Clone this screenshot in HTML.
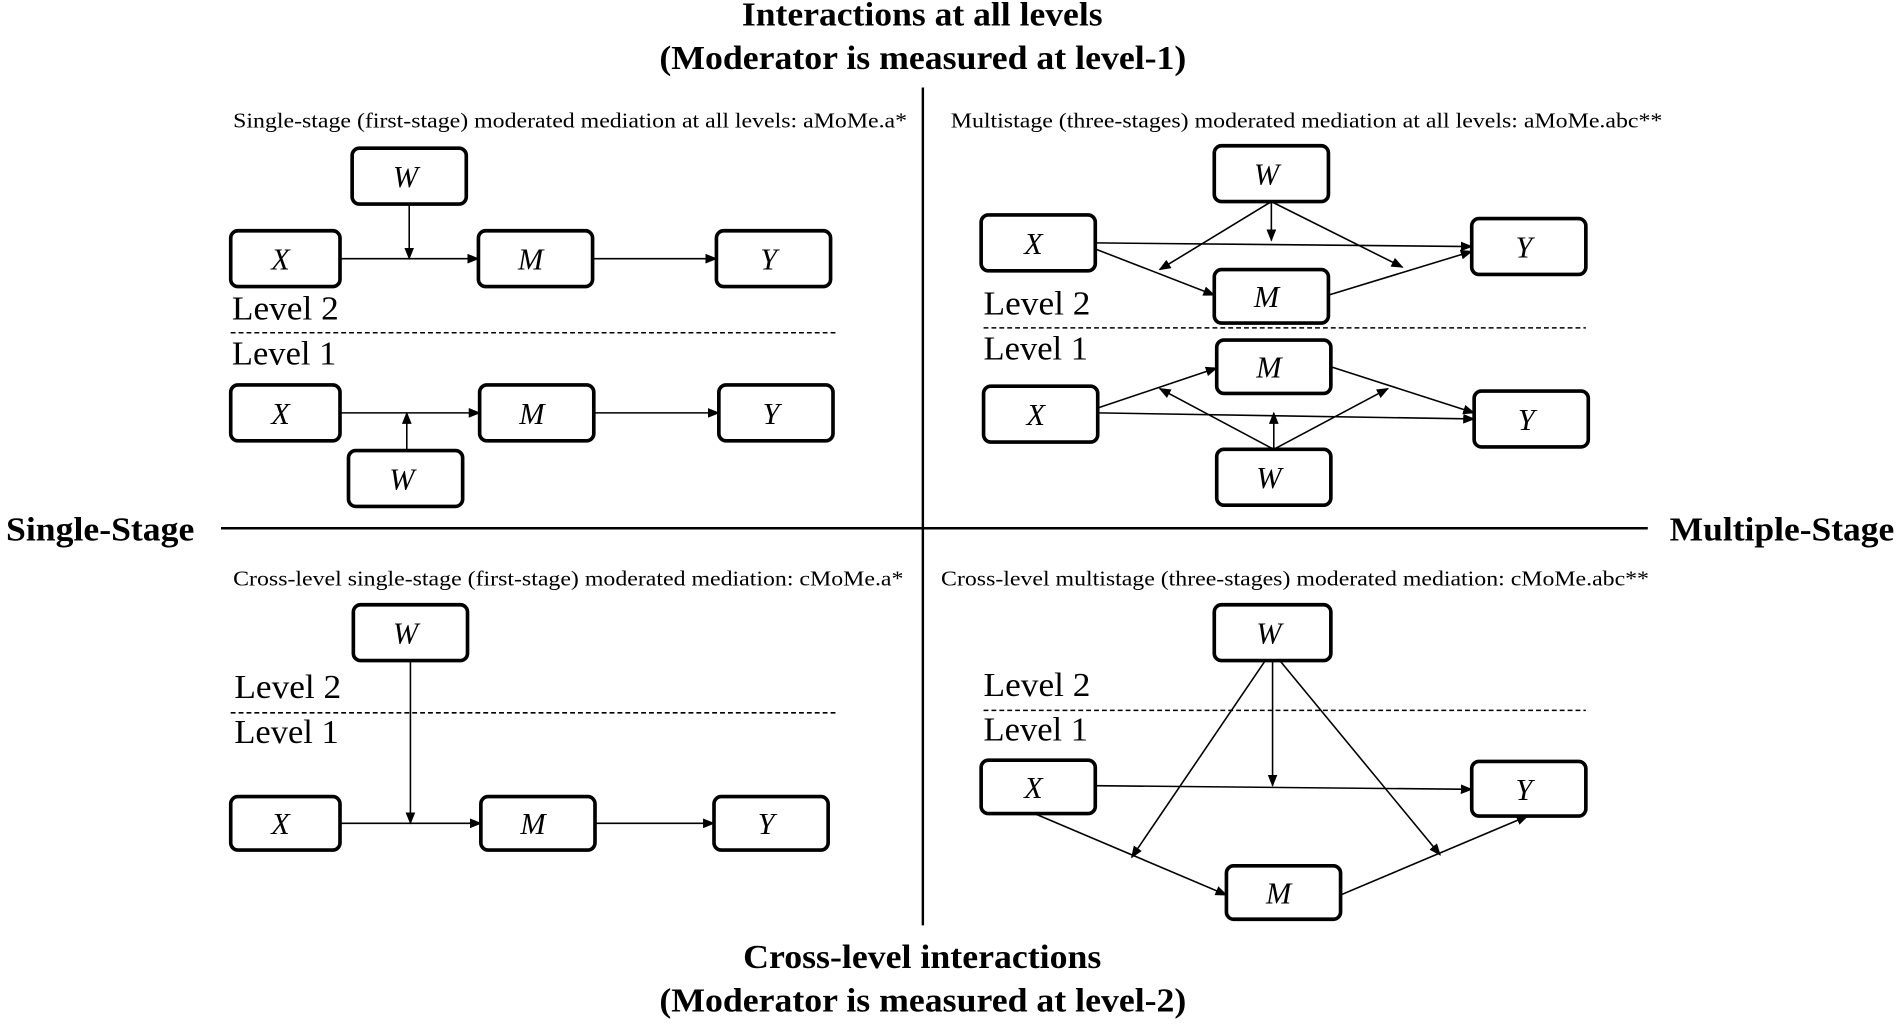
<!DOCTYPE html>
<html><head><meta charset="utf-8"><style>
html,body{margin:0;padding:0;background:#fff;}
svg{display:block;}
text{font-family:"Liberation Serif",serif;fill:#000;}
.b{font-weight:bold;font-size:28px;}
.c{font-size:17px;}
.l{font-size:28px;}
.v{font-size:25px;font-style:italic;}
rect{fill:#fff;stroke:#000;stroke-width:3;}
.ln{stroke:#000;stroke-width:1.3;fill:none;}
.ar{stroke:#000;stroke-width:1.3;fill:none;marker-end:url(#ah);}
.d{stroke:#000;stroke-width:1.3;stroke-dasharray:4 2.5;}
</style></head><body>
<svg width="1904" height="1031" viewBox="0 0 1568 849" xmlns="http://www.w3.org/2000/svg">
<defs><marker id="ah" markerWidth="10" markerHeight="8" refX="9" refY="4" orient="auto" markerUnits="userSpaceOnUse"><path d="M0,0 L10,4 L0,8 z" fill="#000"/></marker></defs>

<text class="b" x="611" y="21" textLength="297" lengthAdjust="spacingAndGlyphs">Interactions at all levels</text>
<text class="b" x="543" y="57" textLength="434" lengthAdjust="spacingAndGlyphs">(Moderator is measured at level-1)</text>
<text class="b" x="612" y="797" textLength="295" lengthAdjust="spacingAndGlyphs">Cross-level interactions</text>
<text class="b" x="543" y="833" textLength="434" lengthAdjust="spacingAndGlyphs">(Moderator is measured at level-2)</text>
<text class="b" x="5" y="445" textLength="155" lengthAdjust="spacingAndGlyphs">Single-Stage</text>
<text class="b" x="1375" y="445" textLength="185" lengthAdjust="spacingAndGlyphs">Multiple-Stage</text>
<line class="ln" x1="760" y1="72" x2="760" y2="762" style="stroke-width:2"/>
<line class="ln" x1="182" y1="435" x2="1357" y2="435" style="stroke-width:2"/>

<!-- Q1 -->
<text class="c" x="192" y="105" textLength="555" lengthAdjust="spacingAndGlyphs">Single-stage (first-stage) moderated mediation at all levels: aMoMe.a*</text>
<line class="ar" x1="280" y1="213" x2="394" y2="213"/>
<line class="ar" x1="488" y1="213" x2="590" y2="213"/>
<line class="ar" x1="337" y1="168" x2="337" y2="213"/>
<rect x="290" y="122" width="94" height="46" rx="6"/><text class="v" x="334" y="154" text-anchor="middle">W</text>
<rect x="190" y="190" width="90" height="46" rx="6"/><text class="v" x="231" y="222" text-anchor="middle">X</text>
<rect x="394" y="190" width="94" height="46" rx="6"/><text class="v" x="437" y="222" text-anchor="middle">M</text>
<rect x="590" y="190" width="94" height="46" rx="6"/><text class="v" x="633" y="222" text-anchor="middle">Y</text>
<text class="l" x="191" y="263" textLength="88" lengthAdjust="spacingAndGlyphs">Level 2</text>
<line class="d" x1="190" y1="274" x2="688" y2="274"/>
<text class="l" x="191" y="300" textLength="86" lengthAdjust="spacingAndGlyphs">Level 1</text>
<line class="ar" x1="280" y1="340" x2="395" y2="340"/>
<line class="ar" x1="489" y1="340" x2="592" y2="340"/>
<line class="ar" x1="335" y1="371" x2="335" y2="340"/>
<rect x="190" y="317" width="90" height="46" rx="6"/><text class="v" x="231" y="349" text-anchor="middle">X</text>
<rect x="395" y="317" width="94" height="46" rx="6"/><text class="v" x="438" y="349" text-anchor="middle">M</text>
<rect x="592" y="317" width="94" height="46" rx="6"/><text class="v" x="635" y="349" text-anchor="middle">Y</text>
<rect x="287" y="371" width="94" height="46" rx="6"/><text class="v" x="331" y="403" text-anchor="middle">W</text>

<!-- Q2 -->
<text class="c" x="783" y="105" textLength="586" lengthAdjust="spacingAndGlyphs">Multistage (three-stages) moderated mediation at all levels: aMoMe.abc**</text>
<line class="ar" x1="902" y1="200" x2="1212" y2="203"/>
<line class="ar" x1="902" y1="205" x2="1000" y2="243"/>
<line class="ar" x1="1047" y1="166" x2="955" y2="222"/>
<line class="ar" x1="1047" y1="166" x2="1047" y2="198"/>
<line class="ar" x1="1047" y1="166" x2="1155" y2="220"/>
<line class="ar" x1="1094" y1="243" x2="1212" y2="207"/>
<rect x="1000" y="120" width="94" height="46" rx="6"/><text class="v" x="1043" y="152" text-anchor="middle">W</text>
<rect x="808" y="177" width="94" height="46" rx="6"/><text class="v" x="851" y="209" text-anchor="middle">X</text>
<rect x="1212" y="180" width="94" height="46" rx="6"/><text class="v" x="1255" y="212" text-anchor="middle">Y</text>
<rect x="1000" y="222" width="94" height="44" rx="6"/><text class="v" x="1043" y="253" text-anchor="middle">M</text>
<text class="l" x="810" y="259" textLength="88" lengthAdjust="spacingAndGlyphs">Level 2</text>
<line class="d" x1="810" y1="270" x2="1306" y2="270"/>
<text class="l" x="810" y="296" textLength="86" lengthAdjust="spacingAndGlyphs">Level 1</text>
<line class="ar" x1="904" y1="336" x2="1002" y2="303"/>
<line class="ar" x1="904" y1="340" x2="1214" y2="345"/>
<line class="ar" x1="1096" y1="302" x2="1214" y2="340"/>
<line class="ar" x1="1049" y1="370" x2="955" y2="320"/>
<line class="ar" x1="1049" y1="370" x2="1049" y2="340"/>
<line class="ar" x1="1049" y1="370" x2="1143" y2="320"/>
<rect x="1002" y="280" width="94" height="44" rx="6"/><text class="v" x="1045" y="311" text-anchor="middle">M</text>
<rect x="810" y="318" width="94" height="46" rx="6"/><text class="v" x="853" y="350" text-anchor="middle">X</text>
<rect x="1214" y="322" width="94" height="46" rx="6"/><text class="v" x="1257" y="354" text-anchor="middle">Y</text>
<rect x="1002" y="370" width="94" height="46" rx="6"/><text class="v" x="1045" y="402" text-anchor="middle">W</text>

<!-- Q3 -->
<text class="c" x="192" y="482" textLength="552" lengthAdjust="spacingAndGlyphs">Cross-level single-stage (first-stage) moderated mediation: cMoMe.a*</text>
<text class="l" x="193" y="575" textLength="88" lengthAdjust="spacingAndGlyphs">Level 2</text>
<line class="d" x1="190" y1="587" x2="690" y2="587"/>
<text class="l" x="193" y="612" textLength="86" lengthAdjust="spacingAndGlyphs">Level 1</text>
<line class="ar" x1="338" y1="544" x2="338" y2="678"/>
<line class="ar" x1="280" y1="678" x2="396" y2="678"/>
<line class="ar" x1="490" y1="678" x2="588" y2="678"/>
<rect x="291" y="498" width="94" height="46" rx="6"/><text class="v" x="334" y="530" text-anchor="middle">W</text>
<rect x="190" y="656" width="90" height="44" rx="6"/><text class="v" x="231" y="687" text-anchor="middle">X</text>
<rect x="396" y="656" width="94" height="44" rx="6"/><text class="v" x="439" y="687" text-anchor="middle">M</text>
<rect x="588" y="656" width="94" height="44" rx="6"/><text class="v" x="631" y="687" text-anchor="middle">Y</text>

<!-- Q4 -->
<text class="c" x="775" y="482" textLength="583" lengthAdjust="spacingAndGlyphs">Cross-level multistage (three-stages) moderated mediation: cMoMe.abc**</text>
<text class="l" x="810" y="573" textLength="88" lengthAdjust="spacingAndGlyphs">Level 2</text>
<line class="d" x1="810" y1="585" x2="1306" y2="585"/>
<text class="l" x="810" y="610" textLength="86" lengthAdjust="spacingAndGlyphs">Level 1</text>
<line class="ar" x1="902" y1="647" x2="1212" y2="650"/>
<line class="ar" x1="1048" y1="544" x2="1048" y2="647"/>
<line class="ar" x1="1042" y1="544" x2="932" y2="706"/>
<line class="ar" x1="1054" y1="544" x2="1186" y2="704"/>
<line class="ar" x1="852" y1="670" x2="1010" y2="737"/>
<line class="ar" x1="1104" y1="737" x2="1258" y2="672"/>
<rect x="1000" y="498" width="96" height="46" rx="6"/><text class="v" x="1045" y="530" text-anchor="middle">W</text>
<rect x="808" y="626" width="94" height="44" rx="6"/><text class="v" x="851" y="657" text-anchor="middle">X</text>
<rect x="1212" y="627" width="94" height="45" rx="6"/><text class="v" x="1255" y="659" text-anchor="middle">Y</text>
<rect x="1010" y="713" width="94" height="44" rx="6"/><text class="v" x="1053" y="744" text-anchor="middle">M</text>
</svg>
</body></html>
